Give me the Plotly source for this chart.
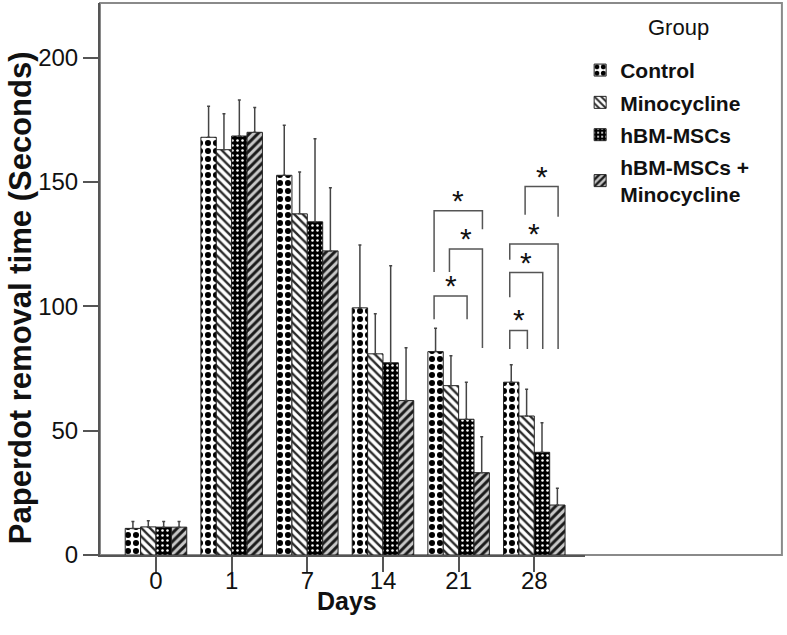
import plotly.graph_objects as go

days = ["0", "1", "7", "14", "21", "28"]
groups = ["Control", "Minocycline", "hBM-MSCs", "hBM-MSCs +<br>Minocycline"]

control_mean = [10.7, 168.0, 152.7, 99.4, 81.8, 69.5]
control_top = [13.5, 180.5, 172.8, 124.7, 91.2, 76.5]
mino_mean = [11.3, 163.0, 137.2, 80.9, 68.1, 55.9]
mino_top = [13.8, 177.5, 154.0, 97.0, 80.1, 66.7]
hbm_mean = [11.2, 168.5, 134.0, 77.3, 54.6, 41.3]
hbm_top = [13.5, 183.0, 167.4, 116.3, 69.5, 53.2]
combo_mean = [11.2, 170.0, 122.3, 62.1, 33.1, 20.1]
combo_top = [13.5, 180.0, 147.7, 83.4, 47.6, 26.8]

# significance brackets: day index, left bar, right bar, top, left foot, right foot
sig_day = [4, 4, 4, 5, 5, 5, 5]
sig_left = [0, 1, 0, 0, 0, 0, 1]
sig_right = [2, 3, 3, 1, 2, 3, 3]
sig_top = [104.2, 123.1, 138.4, 90.3, 113.6, 125.1, 148.2]
sig_lfoot = [94.8, 113.8, 113.8, 82.8, 103.7, 118.7, 136.8]
sig_rfoot = [94.8, 83.2, 131.0, 82.8, 82.8, 82.8, 136.0]

means = [control_mean, mino_mean, hbm_mean, combo_mean]
tops = [control_top, mino_top, hbm_top, combo_top]

styles = [
    dict(shape=".", fg="#000000", bg="#ffffff", size=8, sol=0.45),
    dict(shape="\\", fg="#2a2a2a", bg="#ffffff", size=6, sol=0.4),
    dict(shape=".", fg="#ffffff", bg="#000000", size=5, sol=0.2),
    dict(shape="/", fg="#1a1a1a", bg="#c8c8c8", size=6, sol=0.5),
]

BARW = 0.203
fig = go.Figure()
xs = list(range(len(days)))
for i, (name, m, t, st) in enumerate(zip(groups, means, tops, styles)):
    err = [tt - mm for tt, mm in zip(t, m)]
    fig.add_trace(go.Bar(
        x=xs, y=m, name=name, legendgroup=f"g{i}",
        marker=dict(color=st["bg"],
                    line=dict(color="#222222", width=1),
                    pattern=dict(shape=st["shape"], fgcolor=st["fg"], bgcolor=st["bg"],
                                 size=st["size"], solidity=st["sol"], fillmode="replace")),
        error_y=dict(type="data", symmetric=False, array=err, arrayminus=[0] * len(err),
                     color="#444444", thickness=1.5, width=1.5),
    ))

def bar_x(day, i):
    return day + (i - 1.5) * BARW

shapes = []
annotations = []
for d, l, r, top, lf, rf in zip(sig_day, sig_left, sig_right, sig_top, sig_lfoot, sig_rfoot):
    x0 = bar_x(d, l) - 0.02
    x1 = bar_x(d, r) + 0.01
    shapes.append(dict(type="path", xref="x", yref="y",
                       path=f"M {x0},{lf} L {x0},{top} L {x1},{top} L {x1},{rf}",
                       line=dict(color="#555555", width=1.5)))
    annotations.append(dict(x=(x0 + x1) / 2, y=top, xref="x", yref="y", text="*",
                            showarrow=False, yanchor="bottom", yshift=-8,
                            font=dict(size=30, color="#111111", family="Liberation Sans, Arial")))

# outer gray frame
shapes.append(dict(type="rect", xref="paper", yref="paper", x0=0, x1=1.406, y0=0, y1=1,
                   line=dict(color="#8a8a8a", width=2), layer="below"))

annotations.append(dict(text="<b>Paperdot removal time (Seconds)</b>", textangle=-90,
                        xref="paper", yref="paper", x=-0.165, y=0.467, showarrow=False,
                        xanchor="center", yanchor="middle",
                        font=dict(size=31, color="#111111", family="Liberation Sans, Arial")))
annotations.append(dict(text="<b>Days</b>", xref="paper", yref="paper", x=0.509, y=-0.083,
                        showarrow=False, xanchor="center", yanchor="middle",
                        font=dict(size=25, color="#111111", family="Liberation Sans, Arial")))
# legend heading
annotations.append(dict(text="Group", xref="paper", yref="paper", x=1.192, y=0.956,
                        showarrow=False, xanchor="center", yanchor="middle",
                        font=dict(size=22, color="#111111", family="Liberation Sans, Arial",
                                  weight="normal")))

fig.update_layout(
    width=787, height=635,
    margin=dict(l=100, r=202, t=3, b=80),
    paper_bgcolor="white", plot_bgcolor="white",
    barmode="group", bargap=0.187, bargroupgap=0,
    font=dict(family="Liberation Sans, Arial", color="#111111"),
    shapes=shapes, annotations=annotations,
    legend=dict(x=0.99, y=0.915, xanchor="left", yanchor="top",
                bgcolor="rgba(0,0,0,0)", tracegroupgap=2,
                font=dict(size=21, color="#111111", family="Liberation Sans, Arial", weight="bold")),
    showlegend=True,
)
fig.update_xaxes(range=[-0.74, 5.67], tickvals=xs, ticktext=days, ticks="outside",
                 ticklen=15, tickwidth=2, tickcolor="#555555", showline=True,
                 linecolor="#555555", linewidth=2, showgrid=False, zeroline=False,
                 tickfont=dict(size=24, color="#111111"), ticklabelstandoff=-12,
                 automargin=False)
fig.update_yaxes(range=[0, 222], tickvals=[0, 50, 100, 150, 200], ticks="outside",
                 ticklen=15, tickwidth=2, tickcolor="#555555", showline=True,
                 linecolor="#555555", linewidth=2, showgrid=False, zeroline=False,
                 tickfont=dict(size=24, color="#111111"), automargin=False)

fig.write_html("out.html", config={"displayModeBar": False},
               post_script="document.body.style.margin='0px';")
